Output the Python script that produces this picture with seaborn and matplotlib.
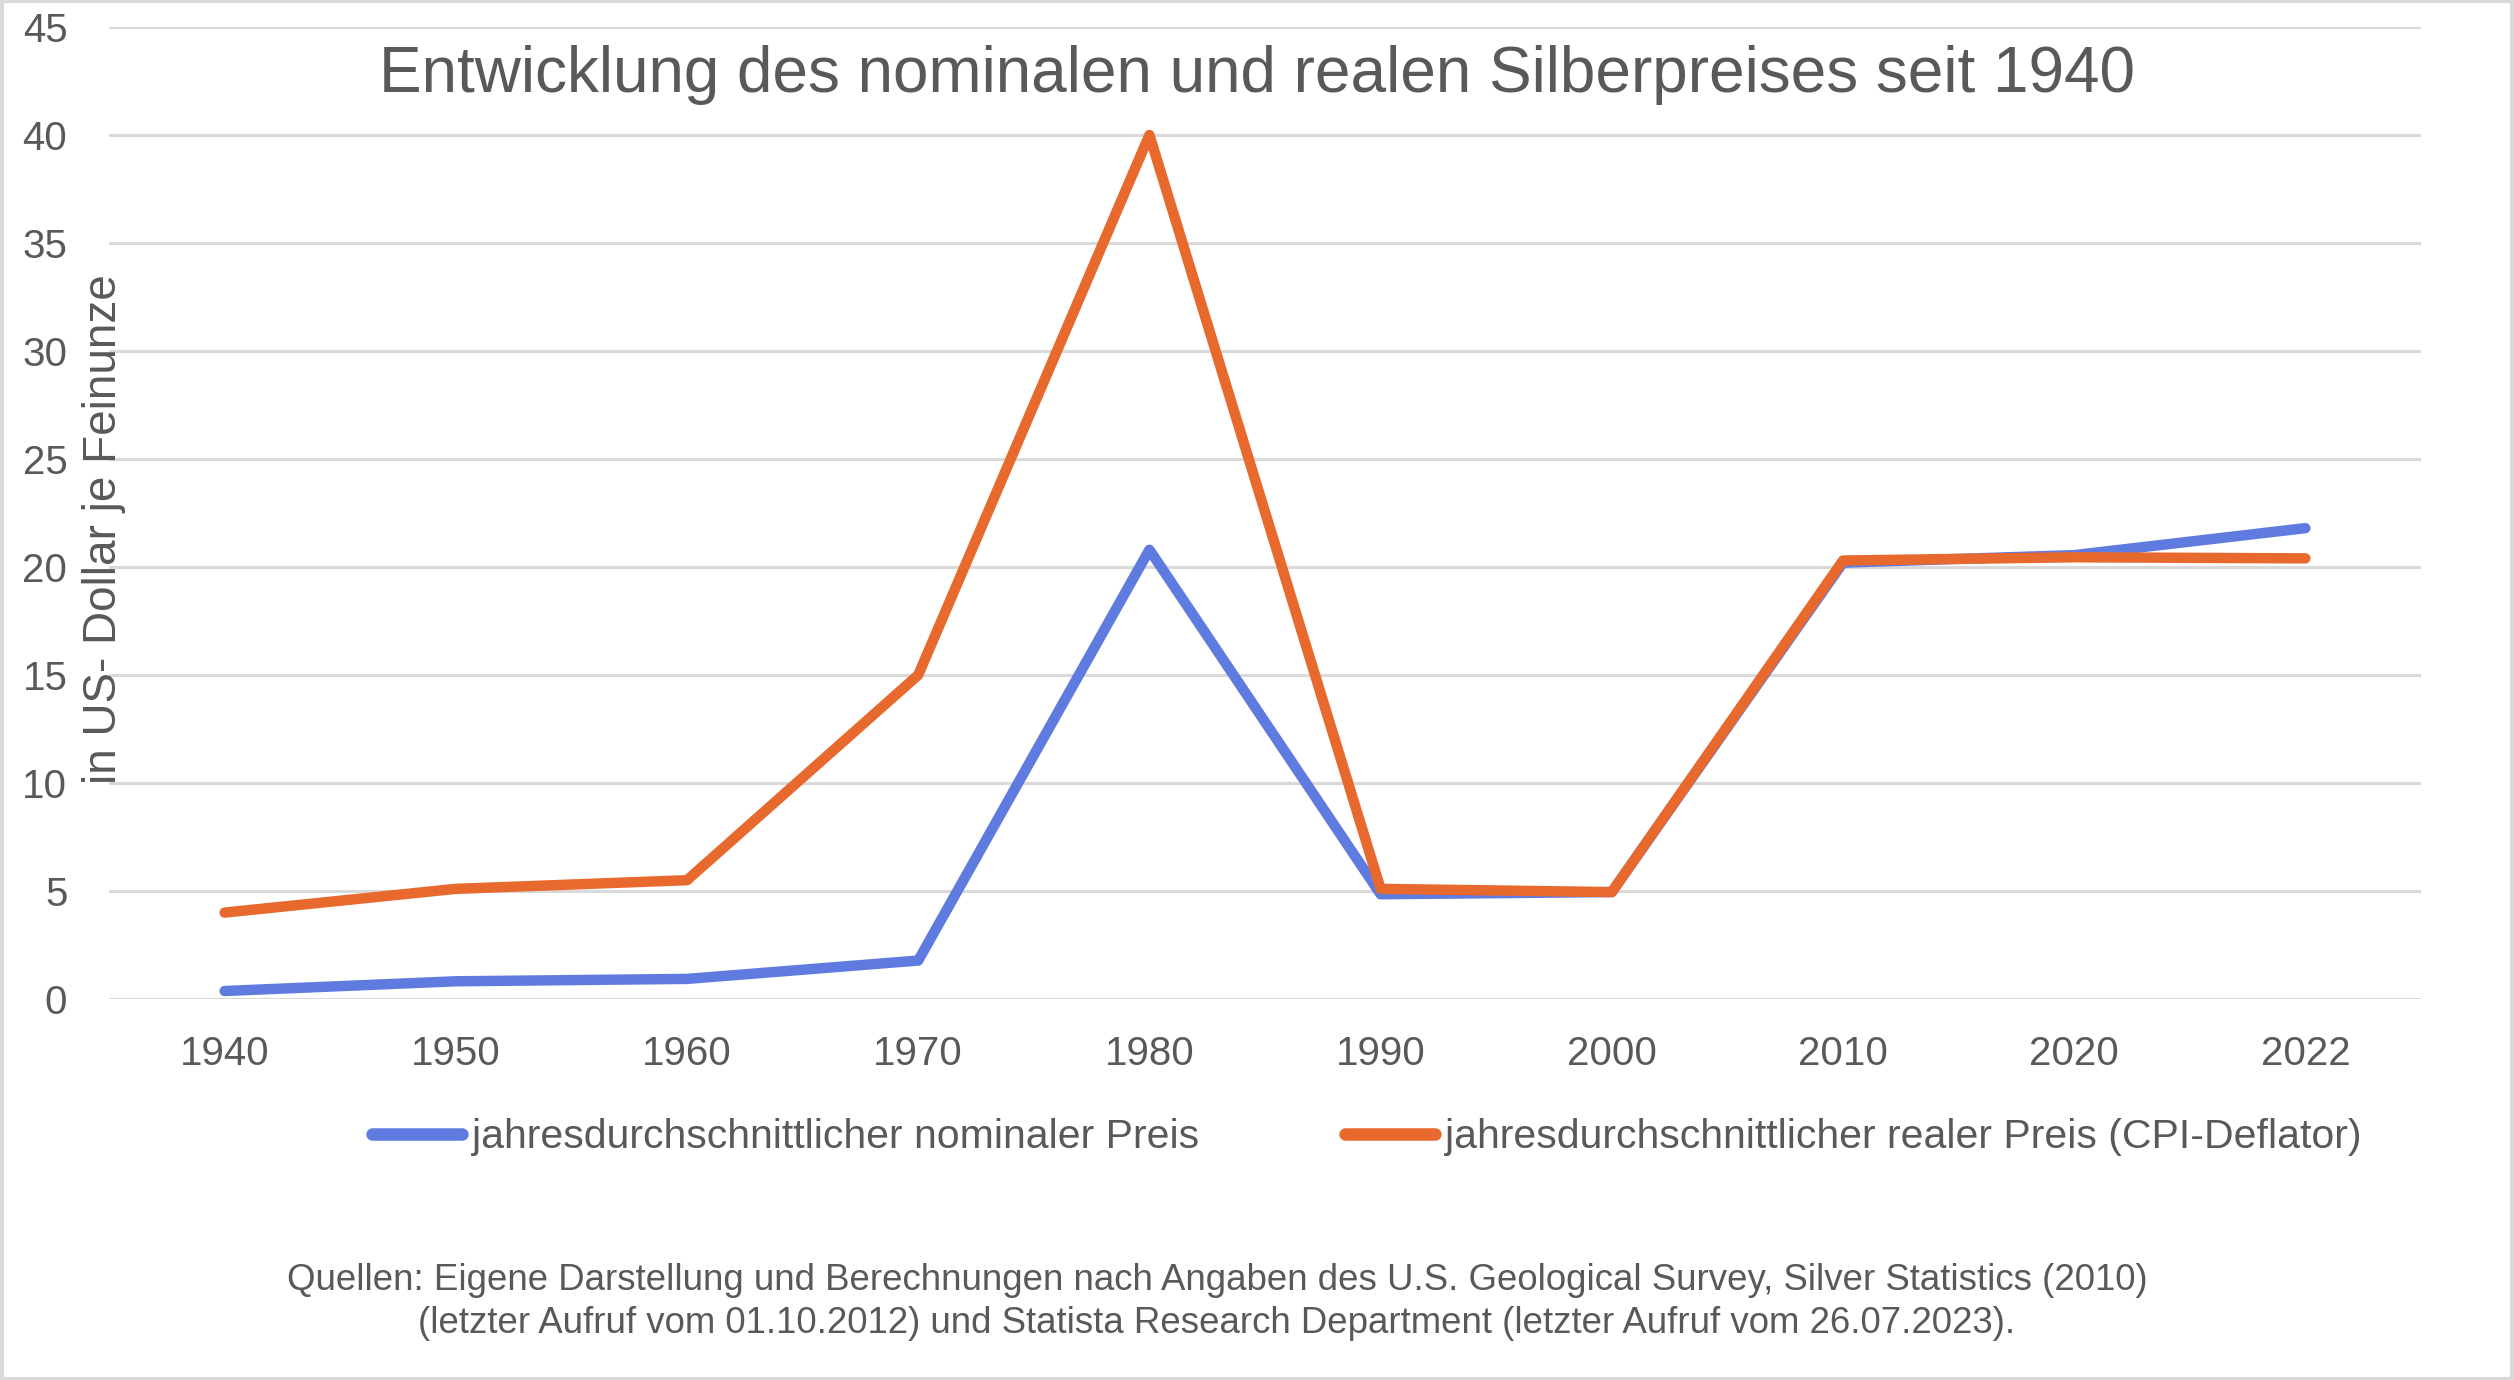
import matplotlib
matplotlib.use("Agg")
import matplotlib.pyplot as plt
import seaborn as sns
import pandas as pd
from matplotlib.patches import Rectangle

years = ["1940", "1950", "1960", "1970", "1980", "1990", "2000", "2010", "2020", "2022"]
nominal = [0.37, 0.82, 0.93, 1.78, 20.8, 4.85, 4.95, 20.2, 20.55, 21.8]
real = [4.0, 5.1, 5.5, 15.0, 40.0, 5.1, 4.95, 20.3, 20.45, 20.4]
series_names = ["jahresdurchschnittlicher nominaler Preis",
                "jahresdurchschnittlicher realer Preis (CPI-Deflator)"]
yticks = [0, 5, 10, 15, 20, 25, 30, 35, 40, 45]

title = "Entwicklung des nominalen und realen Silberpreises seit 1940"
ylabel = "in US- Dollar je Feinunze"
source = ("Quellen: Eigene Darstellung und Berechnungen nach Angaben des U.S. Geological Survey, Silver Statistics (2010)\n"
          "(letzter Aufruf vom 01.10.2012) und Statista Research Department (letzter Aufruf vom 26.07.2023).")

colors = ["#5F7BE0", "#E8692D"]
text_color = "#595959"
grid_color = "#D9D9D9"

sns.set_theme(style="white")
plt.rcParams['font.family'] = ['Liberation Sans', 'DejaVu Sans']

df = pd.DataFrame({
    "Jahr": years * 2,
    "Preis": nominal + real,
    "Serie": [series_names[0]] * len(years) + [series_names[1]] * len(years),
})

W, H = 2514, 1380
fig = plt.figure(figsize=(W / 100, H / 100), dpi=100)
fig.patch.set_facecolor("white")
ax = fig.add_axes([109 / W, 1 - 999 / H, (2421 - 109) / W, (999 - 27) / H])

sns.lineplot(data=df, x="Jahr", y="Preis", hue="Serie", palette=colors,
             sort=False, linewidth=7.5, ax=ax, legend=True)
for ln in ax.get_lines():
    ln.set_solid_capstyle("round")
    ln.set_solid_joinstyle("round")

ax.set_xlim(-0.5, len(years) - 0.5)
ax.set_ylim(0, 45)
ax.set_yticks(yticks)
ax.yaxis.grid(True, color=grid_color, linewidth=2.2)
ax.set_axisbelow(True)
for s in ax.spines.values():
    s.set_visible(False)
ax.tick_params(axis="both", length=0, labelsize=29, labelcolor=text_color)
ax.tick_params(axis="y", pad=30)
ax.tick_params(axis="x", pad=26)
ax.set_xlabel("")
ax.set_ylabel("")

handles, labels = ax.get_legend_handles_labels()
ax.get_legend().remove()
for h in handles:
    h.set_linewidth(9)
    h.set_solid_capstyle("round")
fig.legend(handles, labels, loc="center", bbox_to_anchor=(1367 / W, 1 - 1137 / H),
           ncol=2, frameon=False, fontsize=29.5, labelcolor=text_color,
           handlelength=2.2, handletextpad=0.25, columnspacing=3.55)

fig.text(1257 / W, 1 - 75 / H, title, ha="center", va="center",
         fontsize=46, color=text_color)
fig.text(104 / W, 1 - 529 / H, ylabel, ha="center", va="center",
         rotation=90, fontsize=33, color=text_color)
fig.text(1217 / W, 1 - 1302 / H, source, ha="center", va="center",
         fontsize=26.4, color=text_color, linespacing=1.32, multialignment="center")

fig.patches.append(Rectangle((0.0006, 0.001), 0.9985, 0.998, transform=fig.transFigure,
                             fill=False, edgecolor=grid_color, linewidth=3))

fig.savefig("out.png", dpi=100, facecolor="white")
